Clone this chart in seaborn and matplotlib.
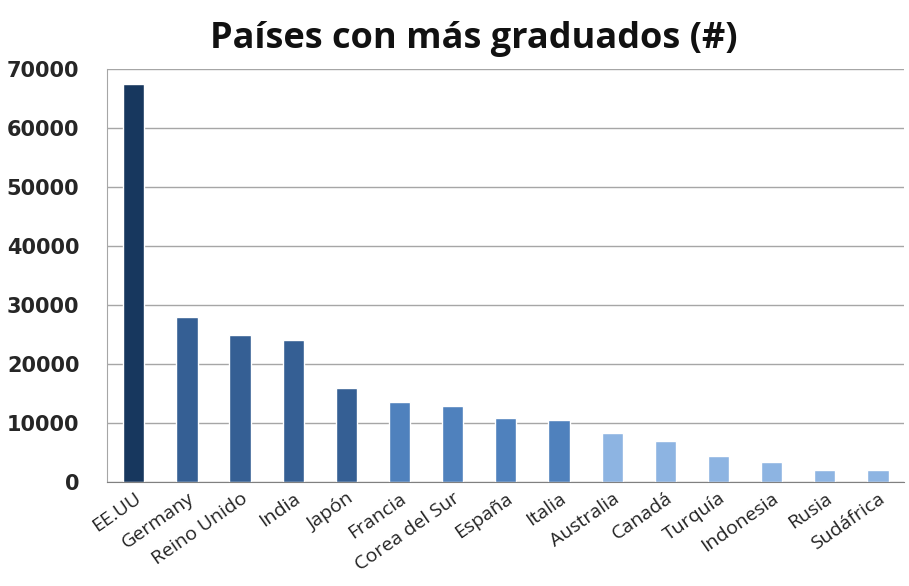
import matplotlib
matplotlib.use("Agg")
import matplotlib.pyplot as plt
import pandas as pd
import seaborn as sns

# Values
paises = ["EE.UU", "Germany", "Reino Unido", "India", "Japón", "Francia",
          "Corea del Sur", "España", "Italia", "Australia", "Canadá",
          "Turquía", "Indonesia", "Rusia", "Sudáfrica"]
graduados = [67500, 28000, 25000, 24100, 16000, 13600, 12900, 10900,
             10500, 8300, 6950, 4400, 3500, 2150, 2000]
grupo = ["top", "alto", "alto", "alto", "alto", "medio", "medio", "medio",
         "medio", "bajo", "bajo", "bajo", "bajo", "bajo", "bajo"]

colores = {"top": "#17375E", "alto": "#355F94", "medio": "#4F81BD", "bajo": "#8DB4E2"}

df = pd.DataFrame({"pais": paises, "graduados": graduados, "grupo": grupo})
df["color"] = df["grupo"].map(colores)

sns.set_style("white")
plt.rcParams["font.family"] = ["Open Sans", "DejaVu Sans"]

fig, ax = plt.subplots(figsize=(9.09, 5.86), dpi=100)
sns.barplot(data=df, x="pais", y="graduados", hue="pais",
            palette=dict(zip(df["pais"], df["color"])), legend=False,
            width=0.4, saturation=1, ax=ax)

ax.set_ylim(0, 70000)
ax.set_yticks(range(0, 70001, 10000))
ax.set_xlim(-0.5, len(paises) - 0.5)
ax.yaxis.grid(True, color="#A6A6A6", linewidth=1)
ax.set_axisbelow(True)
ax.set_xlabel("")
ax.set_ylabel("")

for side in ["top", "right"]:
    ax.spines[side].set_visible(False)
ax.spines["left"].set_color("#A6A6A6")
ax.spines["bottom"].set_color("#808080")

ax.tick_params(axis="y", length=10, color="#A6A6A6", pad=10)
ax.tick_params(axis="x", length=0, pad=5)
for lbl in ax.get_yticklabels():
    lbl.set_fontweight("bold")
    lbl.set_family("DejaVu Sans")
    lbl.set_fontsize(15)
for lbl in ax.get_xticklabels():
    lbl.set_fontsize(14)
    lbl.set_color("#222222")
    lbl.set_rotation(35)
    lbl.set_ha("right")
    lbl.set_rotation_mode("anchor")

ax.set_title("Países con más graduados (#)", fontsize=26, fontweight="bold",
             pad=15, color="#111111", x=0.46)

fig.subplots_adjust(left=0.118, right=0.995, top=0.882, bottom=0.177)
fig.savefig("out.png", dpi=100)
